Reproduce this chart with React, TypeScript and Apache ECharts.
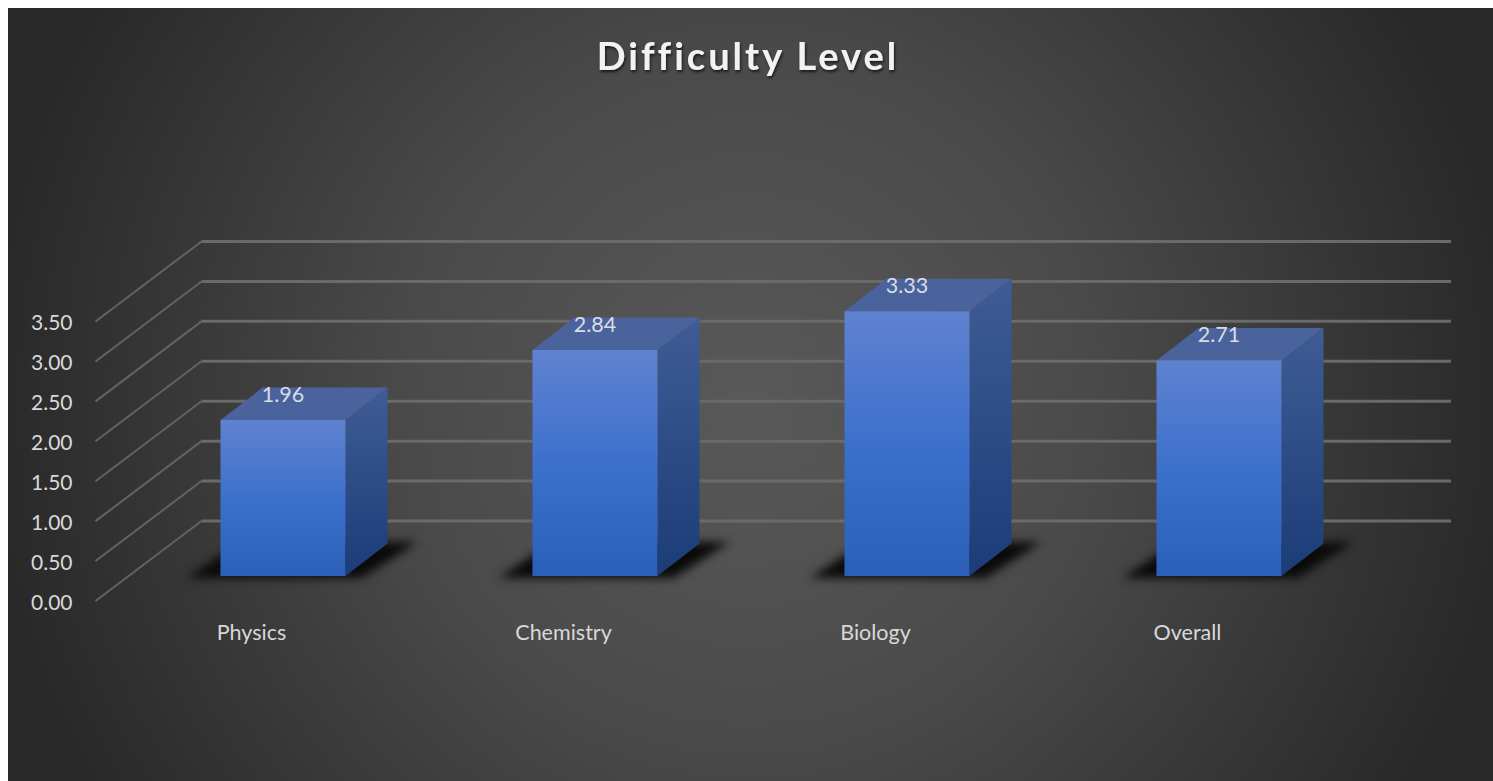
import React, { useEffect, useRef } from "react";
import * as echarts from "echarts";

const titleText = "Difficulty Level";
const categories = ["Physics", "Chemistry", "Biology", "Overall"];
const values = [1.96, 2.84, 3.33, 2.71];
const tickValues = [0, 0.5, 1, 1.5, 2, 2.5, 3, 3.5];

const DEPTH_X = 106;
const DEPTH_Y = -80;
const GRID_RIGHT_END = 1443;
const BAR_SCALE = 0.996;
const SHADOW_FILL = "#0a0a0b";

const grad = (a: string, b: string, c?: string) =>
  new echarts.graphic.LinearGradient(0, 0, 0, 1,
    c
      ? [{ offset: 0, color: a }, { offset: 0.5, color: b }, { offset: 1, color: c }]
      : [{ offset: 0, color: a }, { offset: 1, color: b }]);

export default function App() {
  const ref = useRef<HTMLDivElement>(null);
  useEffect(() => {
    const el = ref.current!;
    const chart = echarts.init(el, undefined, { renderer: "svg" });
    chart.setOption({
      animation: false,
      backgroundColor: "transparent",
      title: {
        text: titleText,
        left: 735,
        top: 23,
        textAlign: "center",
        textStyle: {
          fontFamily: "Lato",
          fontWeight: "bold",
          fontSize: 38,
          color: "#f2f2f2",
          textShadowColor: "rgba(0,0,0,0.7)",
          textShadowBlur: 3,
          textShadowOffsetX: 1,
          textShadowOffsetY: 2,
        },
      },
      grid: { left: 87.5, top: 313.5, width: 1248, height: 279.5 },
      xAxis: {
        type: "category",
        data: categories,
        axisLine: { show: false },
        axisTick: { show: false },
        splitLine: { show: false },
        axisLabel: { color: "#d9d9d9", fontFamily: "Lato", fontSize: 21.5, margin: 20 },
      },
      yAxis: {
        type: "value",
        min: 0,
        max: 3.5,
        interval: 0.5,
        axisLine: { show: false },
        axisTick: { show: false },
        splitLine: { show: false },
        axisLabel: {
          color: "#d9d9d9",
          fontFamily: "Lato",
          fontSize: 21,
          margin: 23,
          formatter: (v: number) => v.toFixed(2),
        },
      },
      series: [
        {
          type: "custom",
          clip: false,
          silent: true,
          z: 1,
          data: tickValues.map((t) => [0, t]),
          encode: { x: 0, y: 1 },
          renderItem: (params: any, api: any) => {
            const cs = params.coordSys;
            const y = api.coord([0, api.value(1)])[1];
            return {
              type: "group",
              children: [
                {
                  type: "line",
                  shape: { x1: cs.x, y1: y, x2: cs.x + DEPTH_X, y2: y + DEPTH_Y },
                  style: { stroke: "#636363", lineWidth: 2 },
                },
                {
                  type: "line",
                  shape: { x1: cs.x + DEPTH_X, y1: y + DEPTH_Y, x2: GRID_RIGHT_END, y2: y + DEPTH_Y },
                  style: { stroke: "#6a6a6a", lineWidth: 3 },
                },
              ],
            };
          },
        },
        {
          type: "custom",
          clip: false,
          silent: true,
          z: 2,
          data: values.map((v, i) => [i, v]),
          encode: { x: 0, y: 1 },
          renderItem: (params: any, api: any) => {
            const v = api.value(1);
            const idx = api.value(0);
            const p0 = api.coord([idx, 0]);
            const p1 = api.coord([idx, v]);
            const cx = p0[0] + 31.5;
            const base = p0[1] - 25;
            const top = base - (p0[1] - p1[1]) * BAR_SCALE;
            const hw = 62.5;
            const dx = 42;
            const dy = -32.5;
            const l = cx - hw;
            const r = cx + hw;
            return {
              type: "group",
              children: [
                {
                  type: "polygon",
                  shape: {
                    points: [
                      [l - 34, base + 2],
                      [r + 16, base + 2],
                      [r + 72, base - 34],
                      [l + 20, base - 34],
                    ],
                  },
                  style: { fill: SHADOW_FILL },
                },
                {
                  type: "polygon",
                  shape: { points: [[l, top], [r, top], [r + dx, top + dy], [l + dx, top + dy]] },
                  style: { fill: "#4a639c" },
                },
                {
                  type: "polygon",
                  shape: { points: [[r, top], [r + dx, top + dy], [r + dx, base + dy], [r, base]] },
                  style: { fill: grad("#3f5c94", "#1c3c78") },
                },
                {
                  type: "polygon",
                  shape: { points: [[l, top], [r, top], [r, base], [l, base]] },
                  style: { fill: grad("#5f82d0", "#3d70cc", "#2c5fb9") },
                },
                {
                  type: "text",
                  style: {
                    text: v.toFixed(2),
                    x: cx,
                    y: top - 26.5,
                    fill: "#d9dde6",
                    font: "21.5px Lato",
                    textAlign: "center",
                    textVerticalAlign: "middle",
                  },
                },
              ],
            };
          },
        },
      ],
    });
    el.querySelectorAll("text").forEach((t) => {
      if (t.textContent === titleText) t.setAttribute("letter-spacing", "3");
    });
    el.querySelectorAll("path").forEach((p) => {
      const f = (p.getAttribute("fill") || "").toLowerCase();
      if (f === SHADOW_FILL || f === "rgb(10,10,11)" || f === "rgb(10, 10, 11)") {
        (p as SVGPathElement).style.filter = "blur(5px)";
      }
    });
    return () => chart.dispose();
  }, []);
  return (
    <div
      ref={ref}
      style={{
        position: "absolute",
        left: 8,
        top: 8,
        width: 1485,
        height: 773,
        background:
          "radial-gradient(circle 760px at 742px 392px, #595959 0%, #4a4a4a 45%, #383838 75%, #292929 100%)",
      }}
    />
  );
}
